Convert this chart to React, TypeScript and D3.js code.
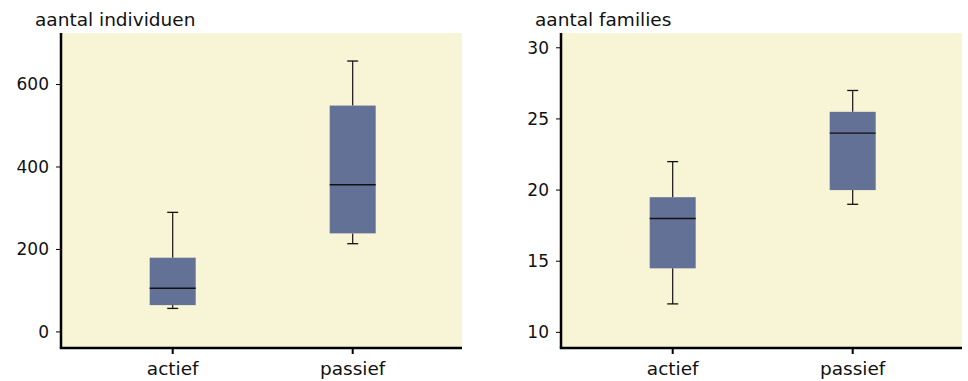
import React from 'react';
import * as d3 from 'd3';

// categories and box statistics (min, q1, median, q3, max)
const categories = ['actief', 'passief'];

const individuenMin = [57, 214];
const individuenQ1 = [65, 239];
const individuenMedian = [106, 357];
const individuenQ3 = [180, 549];
const individuenMax = [290, 657];
const individuenTicks = [0, 200, 400, 600];

const familiesMin = [12, 19];
const familiesQ1 = [14.5, 20];
const familiesMedian = [18, 24];
const familiesQ3 = [19.5, 25.5];
const familiesMax = [22, 27];
const familiesTicks = [10, 15, 20, 25, 30];

const FONT = '"DejaVu Sans", sans-serif';
const BG = '#f8f4d6';
const BOX = '#647196';

type PanelProps = {
  left: number;
  title: string;
  domain: [number, number];
  ticks: number[];
  mins: number[];
  q1s: number[];
  medians: number[];
  q3s: number[];
  maxs: number[];
};

function Panel({ left, title, domain, ticks, mins, q1s, medians, q3s, maxs }: PanelProps) {
  const top = 33;
  const bottom = 348;
  const right = left + 401;

  const y = d3.scaleLinear().domain(domain).range([bottom, top]);
  const x = d3.scalePoint<string>()
    .domain(categories)
    .range([left + 1, left + 402.4])
    .padding(0.615);

  const boxW = 46;
  const capW = 11;

  return (
    <g>
      <text x={left - 26} y={26} fontSize={18.5} fontFamily={FONT} fill="#111">{title}</text>
      <rect x={left} y={top} width={right - left} height={bottom - top} fill={BG} />

      {categories.map((c, i) => {
        const cx = x(c)!;
        return (
          <g key={c}>
            <line x1={cx} x2={cx} y1={y(maxs[i])} y2={y(q3s[i])} stroke="#111" strokeWidth={1.2} />
            <line x1={cx} x2={cx} y1={y(q1s[i])} y2={y(mins[i])} stroke="#111" strokeWidth={1.2} />
            <line x1={cx - capW / 2} x2={cx + capW / 2} y1={y(maxs[i])} y2={y(maxs[i])} stroke="#111" strokeWidth={1.3} />
            <line x1={cx - capW / 2} x2={cx + capW / 2} y1={y(mins[i])} y2={y(mins[i])} stroke="#111" strokeWidth={1.3} />
            <rect x={cx - boxW / 2} y={y(q3s[i])} width={boxW} height={y(q1s[i]) - y(q3s[i])} fill={BOX} />
            <line x1={cx - boxW / 2} x2={cx + boxW / 2} y1={y(medians[i])} y2={y(medians[i])} stroke="#111" strokeWidth={1.4} />
          </g>
        );
      })}

      {/* y axis */}
      <line x1={left} x2={left} y1={top} y2={bottom} stroke="#000" strokeWidth={2.5} />
      {ticks.map(t => (
        <g key={t}>
          <line x1={left - 5} x2={left} y1={y(t)} y2={y(t)} stroke="#000" strokeWidth={1} />
          <text x={left - 12} y={y(t)} dy="0.35em" textAnchor="end" fontSize={17} fontFamily={FONT}
            fill="#111">{t}</text>
        </g>
      ))}

      {/* x axis */}
      <line x1={left - 1.2} x2={right} y1={bottom} y2={bottom} stroke="#000" strokeWidth={2.5} />
      {categories.map(c => (
        <g key={c}>
          <line x1={x(c)!} x2={x(c)!} y1={bottom} y2={bottom + 6} stroke="#000" strokeWidth={2} />
          <text x={x(c)!} y={375} textAnchor="middle" fontSize={18.5} fontFamily={FONT} fill="#111">{c}</text>
        </g>
      ))}
    </g>
  );
}

export default function App() {
  return (
    <svg width={968} height={381} style={{ position: 'absolute', left: 0, top: 0, background: '#fff' }}>
      <Panel left={61} title="aantal individuen" domain={[-39, 725]} ticks={individuenTicks}
        mins={individuenMin} q1s={individuenQ1} medians={individuenMedian} q3s={individuenQ3} maxs={individuenMax} />
      <Panel left={561} title="aantal families" domain={[8.9, 31.04]} ticks={familiesTicks}
        mins={familiesMin} q1s={familiesQ1} medians={familiesMedian} q3s={familiesQ3} maxs={familiesMax} />
    </svg>
  );
}
